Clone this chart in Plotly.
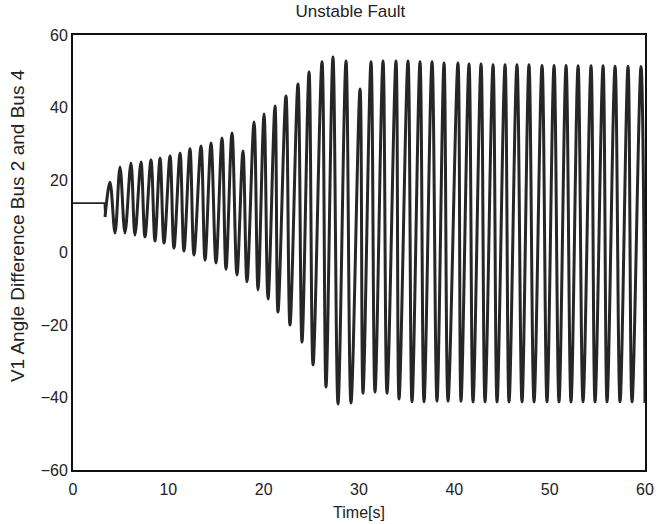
import plotly.graph_objects as go

# Pre-fault steady value and fault instant
prefault_t = [0.0, 3.30]
prefault_v = [13.6, 13.6]
fault_t = [3.36]
fault_v = [9.8]

# Oscillation peaks (time [s], angle [deg])
peak_t = [3.88, 4.93, 6.08, 7.13, 8.18, 9.13, 10.18, 11.23, 12.27, 13.43,
          14.48, 15.63, 16.68, 17.83, 18.99, 20.04, 21.19, 22.34, 23.60, 24.76,
          26.12, 27.27, 28.64, 30.11, 31.26, 32.52, 33.88, 35.14, 36.40, 37.66,
          38.92, 40.38, 41.54, 42.80, 44.06, 45.32, 46.57, 47.83, 49.20, 50.46,
          51.72, 52.98, 54.34, 55.60, 56.86, 58.22, 59.58]
peak_v = [19.4, 23.6, 24.7, 25.0, 25.5, 26.0, 26.6, 27.4, 28.6, 29.4,
          30.2, 31.6, 33.0, 28.0, 36.0, 38.2, 40.4, 43.2, 46.5, 49.8,
          52.6, 53.9, 52.8, 45.1, 52.6, 52.8, 52.8, 52.8, 52.6, 52.6,
          52.3, 52.3, 52.0, 52.0, 51.8, 51.8, 51.8, 51.8, 51.6, 51.6,
          51.6, 51.5, 51.5, 51.5, 51.4, 51.4, 51.3]

# Oscillation troughs (time [s], angle [deg])
trough_t = [4.41, 5.45, 6.50, 7.55, 8.60, 9.55, 10.59, 11.64, 12.69, 13.85,
            15.00, 16.05, 17.20, 18.25, 19.41, 20.46, 21.50, 22.76, 24.02, 25.18,
            26.54, 27.80, 29.16, 30.42, 31.68, 32.94, 34.20, 35.56, 36.82, 38.18,
            39.34, 40.70, 41.96, 43.22, 44.48, 45.74, 47.10, 48.36, 49.72, 50.98,
            52.24, 53.50, 54.76, 56.02, 57.38, 58.64, 60.00]
trough_v = [5.4, 5.4, 4.8, 4.3, 3.2, 2.6, 1.2, 0.4, -0.7, -2.1,
            -2.9, -4.6, -6.2, -8.1, -10.3, -12.8, -16.4, -20.0, -24.7, -31.0,
            -37.1, -41.8, -41.5, -38.8, -38.5, -38.8, -40.4, -41.2, -41.2, -41.0,
            -41.0, -41.0, -41.2, -41.2, -41.2, -41.2, -41.2, -41.2, -41.2, -41.2,
            -41.2, -41.2, -41.2, -41.2, -41.2, -41.2, -41.5]

x_ticks = [0, 10, 20, 30, 40, 50, 60]
y_ticks = [-60, -40, -20, 0, 20, 40, 60]

t_pre = list(prefault_t) + list(fault_t)
v_pre = list(prefault_v) + list(fault_v)
t_osc = list(fault_t)
v_osc = list(fault_v)
for pt, pv, tt, tv in zip(peak_t, peak_v, trough_t, trough_v):
    t_osc += [pt, tt]
    v_osc += [pv, tv]

line_color = "#262626"
fig = go.Figure()
fig.add_trace(go.Scatter(x=t_pre, y=v_pre, mode="lines",
                         line=dict(color=line_color, width=1.8),
                         showlegend=False, hoverinfo="skip"))
fig.add_trace(go.Scatter(x=t_osc, y=v_osc, mode="lines",
                         line=dict(color=line_color, width=3.0,
                                   shape="spline", smoothing=1.0),
                         showlegend=False, hoverinfo="skip"))

font = "Liberation Sans, Arial, sans-serif"
fig.update_layout(
    width=656, height=524,
    margin=dict(l=73, r=11, t=35, b=54, autoexpand=False),
    paper_bgcolor="white", plot_bgcolor="white",
    font=dict(family=font, size=16, color="#222"),
    title=dict(text="Unstable Fault", xref="paper", x=0.485, xanchor="center",
               y=0.99, yanchor="top", font=dict(size=17, family=font)),
    xaxis=dict(range=[0, 60], tickvals=x_ticks, showgrid=False, zeroline=False,
               showline=True, linecolor="#111", linewidth=1.8, mirror=True,
               ticks="", automargin=False, ticklabelstandoff=4,
               title=dict(text="Time[s]", standoff=10, font=dict(size=16))),
    yaxis=dict(range=[-60, 60], tickvals=y_ticks, showgrid=False, zeroline=False,
               showline=True, linecolor="#111", linewidth=1.8, mirror=True,
               ticks="", automargin=False),
    annotations=[dict(text="V1 Angle Difference Bus 2 and Bus 4",
                      xref="paper", yref="paper", x=-0.096, y=0.561,
                      xanchor="center", yanchor="middle", textangle=-90,
                      showarrow=False, font=dict(size=19, family=font,
                                                 color="#222"))],
)

fig.write_html("out.html", config={"displayModeBar": False},
               post_script="document.body.style.margin='0';"
                           "document.body.style.overflow='hidden';")
